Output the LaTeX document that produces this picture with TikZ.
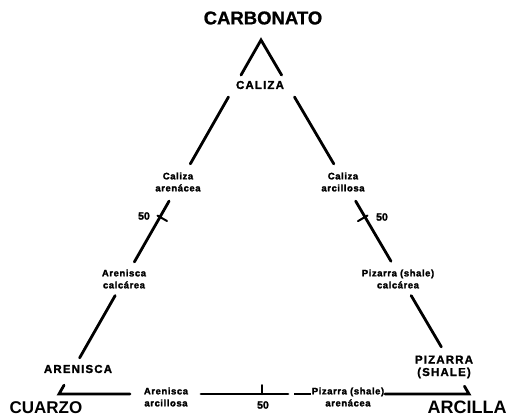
\documentclass[tikz,border=0pt]{standalone}
\usepackage{fontspec}
\setmainfont{Liberation Sans}
\usetikzlibrary{calc}
\begin{document}
\begin{tikzpicture}[x=1pt,y=-1pt,
  side/.style={line width=2.8pt, line cap=round, line join=miter},
  tick/.style={line width=2pt, line cap=round},
  big/.style={font=\fontsize{18}{20}\selectfont\bfseries, inner sep=0pt},
  caps/.style={font=\fontsize{11.5}{12.5}\selectfont\bfseries\addfontfeature{LetterSpace=10,FakeBold=1.5}, inner sep=0pt, align=center},
  small/.style={font=\fontsize{9.5}{12}\selectfont\bfseries\addfontfeature{LetterSpace=6,FakeBold=2}, inner sep=0pt, align=center},
  num/.style={font=\fontsize{10.5}{12}\selectfont\bfseries\addfontfeature{FakeBold=2}, inner sep=0pt}]
\useasboundingbox (0,0) rectangle (508,418);
% vertices
\coordinate (A) at (261,40);
\coordinate (B) at (59,394);
\coordinate (C) at (469,394);
% left side break points
\coordinate (l1) at ($(A)!0.099!(B)$);
\coordinate (l2) at ($(A)!0.161!(B)$);
\coordinate (l3) at ($(A)!0.350!(B)$);
\coordinate (l4) at ($(A)!0.455!(B)$);
\coordinate (l5) at ($(A)!0.627!(B)$);
\coordinate (l6) at ($(A)!0.722!(B)$);
\coordinate (l7) at ($(A)!0.898!(B)$);
\coordinate (l8) at ($(A)!0.975!(B)$);
\coordinate (lm) at ($(A)!0.5!(B)$);
% right side break points
\coordinate (r1) at ($(A)!0.099!(C)$);
\coordinate (r2) at ($(A)!0.161!(C)$);
\coordinate (r3) at ($(A)!0.350!(C)$);
\coordinate (r4) at ($(A)!0.455!(C)$);
\coordinate (r5) at ($(A)!0.625!(C)$);
\coordinate (r6) at ($(A)!0.722!(C)$);
\coordinate (r7) at ($(A)!0.867!(C)$);
\coordinate (r8) at ($(A)!0.978!(C)$);
\coordinate (rm) at ($(A)!0.5!(C)$);
% bottom break points
\coordinate (b1) at (130,394);
\coordinate (b2) at (201,394);
\coordinate (b3) at (288,394);
\coordinate (b4) at (294,394);
\coordinate (b5) at (311,394);
\coordinate (b6) at (385,394);
\coordinate (bm) at (262,394);
\coordinate (bt) at (262,385);
% ticks at 50
\coordinate (lt1) at ($(lm)+(-2.5,-1.4)$);
\coordinate (lt2) at ($(lm)+(7,4)$);
\coordinate (rt1) at ($(rm)+(2.5,-1.5)$);
\coordinate (rt2) at ($(rm)+(-7,4.1)$);
% sides
\draw[side] (l1) -- (A) -- (r1);
\draw[side] (l2) -- (l3);
\draw[side] (l4) -- (l5);
\draw[side] (l6) -- (l7);
\draw[side] (l8) -- (B) -- (b1);
\draw[side] (r2) -- (r3);
\draw[side] (r4) -- (r5);
\draw[side] (r6) -- (r7);
\draw[side] (r8) -- (C) -- (b6);
\draw[side] (b2) -- (b3);
\draw[line width=1.8pt] (b4) -- (b5);
\draw[tick] (lt1) -- (lt2);
\draw[tick] (rt1) -- (rt2);
\draw[tick] (bm) -- (bt);
% labels
\node[big, font=\fontsize{18.5}{20}\selectfont\bfseries\addfontfeature{FakeBold=1}] (carb) at (263,18) {CARBONATO};
\node[big, font=\fontsize{17}{20}\selectfont\bfseries] (cuar) at (46,408) {CUARZO};
\node[big] (arci) at (467,407) {ARCILLA};
\node[caps] (cal) at (260,85) {CALIZA};
\node[small] (calar) at (178,182) {Caliza\\arenácea};
\node[small] (calarc) at (343,182) {Caliza\\arcillosa};
\node[num] (l50) at (144,216) {50};
\node[num] (r50) at (382,217) {50};
\node[small] (arecal) at (124,279) {Arenisca\\calcárea};
\node[small] (pizcal) at (398,279) {Pizarra (shale)\\calcárea};
\node[caps] (aren) at (78,369) {ARENISCA};
\node[caps] (piz) at (444,367) {PIZARRA\\(SHALE)};
\node[small] (arearc) at (166,397) {Arenisca\\arcillosa};
\node[small] (pizare) at (348,397) {Pizarra (shale)\\arenácea};
\node[num] (b50) at (263,405) {50};
\end{tikzpicture}
\end{document}
